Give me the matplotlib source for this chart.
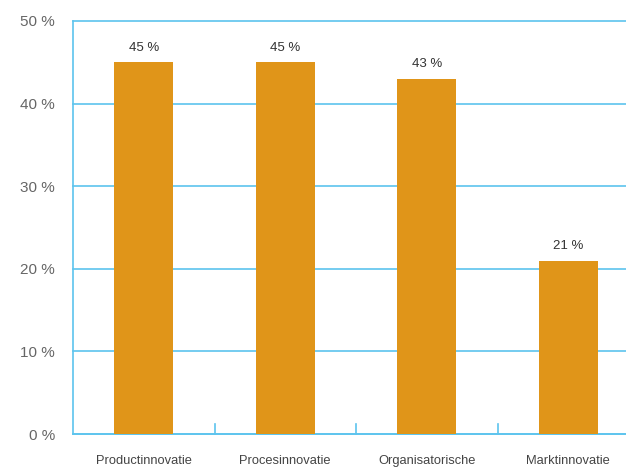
import numpy as np
import matplotlib.pyplot as plt

categories = ["Productinnovatie", "Procesinnovatie", "Organisatorische", "Marktinnovatie"]
values = [45, 45, 43, 21]
value_labels = ["45 %", "45 %", "43 %", "21 %"]
yticks = [0, 10, 20, 30, 40, 50]

blue = "#5cc4ee"
orange = "#e09519"

plt.rcParams["font.family"] = ["Liberation Sans", "DejaVu Sans"]

fig = plt.figure(figsize=(6.26, 4.67), dpi=100)
ax = fig.add_axes([73 / 626, 1 - 434 / 467, 1 - 73 / 626, 413 / 467])

x = np.arange(len(categories))
ax.bar(x, values, width=0.42, color=orange, zorder=3)

for xi, v, lab in zip(x, values, value_labels):
    ax.annotate(lab, (xi, v), xytext=(0, 6), textcoords="offset points",
                ha="center", va="bottom", fontsize=9.5, color="#333333")

ax.set_ylim(0, 50)
ax.set_xlim(-0.5, (626 - 73) / 141.5 - 0.5)
ax.set_yticks(yticks)
ax.set_yticklabels([f"{t} %" for t in yticks], fontsize=11, color="#666666")
ax.yaxis.grid(True, color=blue, linewidth=1.2, zorder=0)
for gl in ax.get_ygridlines():
    gl.set_clip_on(False)
ax.tick_params(axis="y", length=0, pad=13)

ax.set_xticks(x)
ax.set_xticklabels(categories, fontsize=9.3, color="#444444")
ax.tick_params(axis="x", length=0, pad=15)

# small separators between categories
for b in x[:-1] + 0.5:
    ax.plot([b, b], [0, 1.2], color=blue, linewidth=1.2, zorder=2, clip_on=False)

for s in ["top", "right"]:
    ax.spines[s].set_visible(False)
for s in ["left", "bottom"]:
    ax.spines[s].set_color(blue)
    ax.spines[s].set_linewidth(1.2)

fig.savefig("out.png", dpi=100)
